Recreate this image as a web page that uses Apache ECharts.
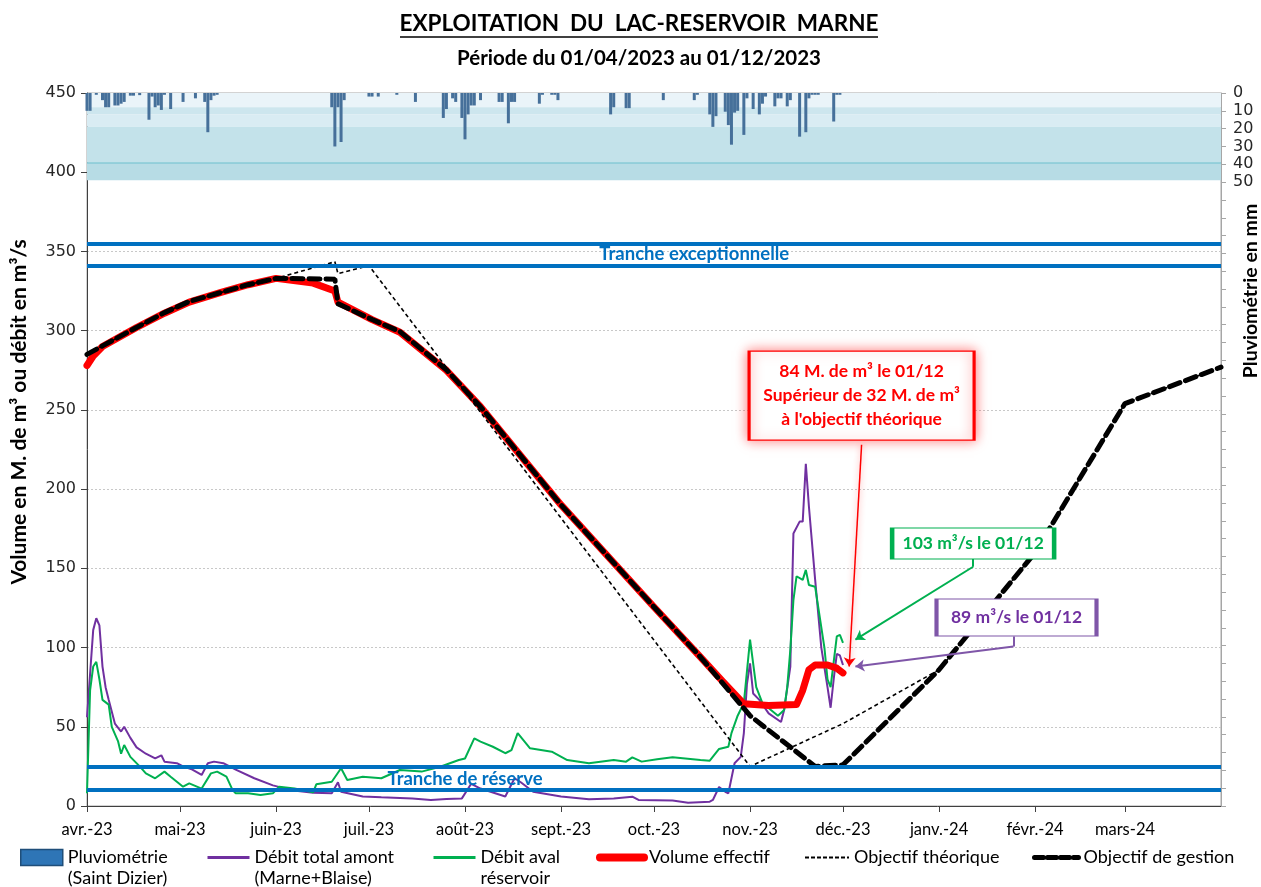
<!DOCTYPE html>
<html>
<head>
<meta charset="utf-8">
<title>Exploitation du lac-réservoir Marne</title>
<script src="https://cdn.jsdelivr.net/npm/echarts@6.0.0/dist/echarts.min.js"></script>
<style>
html, body { margin: 0; padding: 0; background: #fff; }
#chart { width: 1261px; height: 887px; }
</style>
</head>
<body>
<div id="chart"></div>
<script>
// jours comptés depuis le 01/04/2023 (0 = 01/04/2023, 366 = 01/04/2024)
const monthStarts = [0, 30, 61, 91, 122, 153, 183, 214, 244, 275, 306, 335]
const monthLabels = ['avr.-23', 'mai-23', 'juin-23', 'juil.-23', 'août-23', 'sept.-23',
  'oct.-23', 'nov.-23', 'déc.-23', 'janv.-24', 'févr.-24', 'mars-24']

// pluviométrie (mm) - Saint Dizier
const rainDays = [0, 1, 3, 5, 6, 7, 9, 10, 11, 12, 14, 15, 17, 20, 21, 22, 23, 24, 25, 27, 31, 35, 38, 39, 40, 41, 42,
  79, 80, 81, 82, 83, 91, 92, 94, 100, 106, 115, 116, 118, 119, 121, 122, 123, 124, 125, 127, 133, 134, 136, 137, 138,
  146, 147, 150, 151, 152, 169, 170, 174, 175, 186, 196, 197, 201, 202, 203, 206, 207, 208, 209, 210, 212, 213,
  215, 217, 218, 219, 222, 223, 224, 226, 227, 230, 232, 233, 234, 235, 236, 241, 242, 243]
const rainMm = [10, 10, 1, 4, 8, 8, 7, 7, 6, 5, 1.5, 1.5, 1.2, 15, 2, 8, 7, 9.5, 1, 9, 5, 3, 5, 22, 4, 1.5, 1,
  8, 30, 8, 27.5, 4, 2, 2, 2, 1, 5, 14, 9, 3, 5, 14, 26, 12, 7, 7, 4, 5, 5, 17, 5, 5,
  6, 1, 1, 1, 4, 12, 8, 8.5, 8.5, 4, 4, 1, 12, 19, 13, 10.5, 18, 29, 11, 10, 23.5, 3,
  9, 12, 6, 2, 7.5, 3, 3, 7.5, 4, 24.5, 22, 3, 1, 1, 1, 16, 1, 1]

// débit total amont (Marne+Blaise), m3/s
const amontDays = [0, 2, 3, 4, 5, 6, 7, 9, 11, 12, 14, 16, 19, 22, 24, 25, 29, 31, 34, 37, 39, 41, 44, 48, 54, 60, 66,
  73, 79, 81, 82, 89, 95, 105, 111, 116, 121, 124, 127, 135, 138, 140, 144, 153, 162, 170, 176, 178, 189, 194, 201,
  202, 204, 206, 207, 209, 211, 212, 213, 214, 215, 217, 220, 224, 225, 227, 228, 230, 231, 232, 233, 235, 237,
  239, 240, 241, 242, 243, 244]
const amontVals = [56, 111, 118.5, 114, 88, 75, 67, 52, 47, 50, 43, 37, 33, 30, 32, 28, 27, 25, 23, 19.6, 27, 28, 27, 23,
  17.5, 13, 10, 8.4, 8, 15, 9, 6, 5.5, 4.8, 3.8, 4.4, 4.8, 14, 11, 6, 17.5, 15, 9, 6, 4.2, 4.8, 5.9, 3.8, 3.4, 2.1, 2.7,
  3.8, 12, 9, 8, 27, 31, 46, 77, 90, 71, 67, 58.5, 53, 60.6, 88, 172, 179.5, 179.5, 216, 189, 143, 100,
  75, 62, 80, 96, 95, 89]

// débit aval réservoir, m3/s
const avalDays = [0, 1, 2, 3, 4, 5, 7, 8, 10, 11, 12, 14, 17, 19, 22, 25, 27, 31, 33, 37, 40, 42, 45, 47, 48, 52, 56,
  60, 62, 67, 73, 74, 79, 82, 84, 89, 95, 101, 108, 114, 120, 122, 125, 127, 131, 135, 137, 139, 143, 150, 155, 162,
  170, 174, 176, 179, 184, 189, 198, 201, 204, 207, 208, 210, 212, 214, 216, 218, 223, 225, 226, 227, 228, 229,
  231, 232, 233, 235, 238, 239, 240, 242, 243, 244]
const avalVals = [8, 73, 88, 91, 80, 67, 64, 50, 41, 33, 38.5, 31, 25, 20.6, 17.5, 21.7, 18.5, 12.2, 14.3, 11, 20.6, 21.7,
  18.5, 10, 8, 8, 7, 8, 12.2, 11, 8.6, 13.7, 15.3, 23.8, 16.4, 18.5, 17.5, 22.7, 21.7, 24.8, 29, 30, 42.7, 40.6, 37.4,
  33.3, 35.3, 46, 36.4, 34.3, 29, 27, 29, 28, 30.7, 28, 29.5, 30.7, 29, 28.6, 36, 37.4, 46, 57, 65, 105, 75, 65, 57,
  60.6, 75, 98.5, 130, 145, 142.7, 149, 139.5, 138.4, 100, 80, 75, 107, 108, 103]

// volume effectif, millions de m3
const volDays = [0, 2, 5, 16, 25, 33, 43, 52, 61, 73, 80, 81, 92, 101, 116, 127, 153, 183, 198, 205, 212, 220, 229,
  231, 233, 235, 239, 242, 244]
const volVals = [278, 284, 290, 302, 311, 318, 324, 329, 333, 330, 325, 318, 307, 299, 275, 252, 190, 125.6, 94, 79,
  64.5, 63.5, 64, 73, 86, 89, 89, 87, 84]

// objectif théorique
const theoDays = [0, 5, 16, 25, 33, 43, 52, 61, 80, 81, 91, 214, 244, 275, 306, 335, 366]
const theoVals = [285, 290.4, 302, 311.4, 318.4, 324, 329, 333, 343.5, 336, 341, 25, 52, 86, 160, 254, 277]

// objectif de gestion
const gestDays = [0, 5, 16, 25, 33, 43, 52, 61, 80, 81, 92, 101, 116, 127, 153, 183, 198, 214, 235, 244, 275, 306,
  335, 366]
const gestVals = [285, 290.4, 302, 311.4, 318.4, 324, 329, 333, 332.5, 317, 307, 299.4, 275.3, 252, 190, 125.6, 94, 57,
  25, 26, 86, 160, 254, 277]

// seuils des tranches
const tranches = [355, 341, 25, 10]

const days = []
for (let i = 0; i <= 366; i++) days.push(i)
const pairs = (d, v) => d.map((x, i) => [x, v[i]])

const narrow = 'Lato, "Liberation Sans", sans-serif'
const isMonth = (i) => monthStarts.indexOf(i) >= 0

const chart = echarts.init(document.getElementById('chart'))

// une légende par entrée, placée comme dans l'original
function leg(item, left, top, w, h, text) {
  return {
    data: [item],
    left: left,
    top: top,
    padding: 0,
    itemWidth: w,
    itemHeight: h,
    itemGap: 0,
    selectedMode: false,
    formatter: () => text,
    textStyle: { fontFamily: narrow, fontSize: 18, color: '#000', lineHeight: 21 }
  }
}
const hideSym = { opacity: 0 }

chart.setOption({
  animation: false,
  grid: { left: 87, right: 40, top: 93, bottom: 81, show: true, borderColor: '#a6a6a6', borderWidth: 1 },
  graphic: [
    { type: 'text', x: 639, y: 24, style: { text: 'EXPLOITATION  DU  LAC-RESERVOIR  MARNE', font: 'bold 22.5px ' + narrow, fill: '#000', align: 'center', verticalAlign: 'middle' } },
    { type: 'line', shape: { x1: 400, y1: 37, x2: 878, y2: 37 }, style: { stroke: '#000', lineWidth: 1.5 } },
    { type: 'text', x: 639, y: 58, style: { text: 'Période du 01/04/2023 au 01/12/2023', font: 'bold 20.5px ' + narrow, fill: '#000', align: 'center', verticalAlign: 'middle' } },
    { type: 'text', x: 19, y: 412, rotation: Math.PI / 2, style: { text: 'Volume en M. de m³ ou débit en m³/s', font: 'bold 21px ' + narrow, fill: '#000', align: 'center', verticalAlign: 'middle' } },
    { type: 'text', x: 1251, y: 291, rotation: Math.PI / 2, style: { text: 'Pluviométrie en mm', font: 'bold 19.5px ' + narrow, fill: '#000', align: 'center', verticalAlign: 'middle' } }
  ],
  legend: [
    leg({ name: 'Pluviométrie', icon: 'rect', itemStyle: { color: '#2e75b6', borderColor: '#1f4e79', borderWidth: 1.5 } },
      20, 826, 42, 16, ' \nPluviométrie\n(Saint Dizier)'),
    leg({ name: 'Débit total amont', itemStyle: hideSym, lineStyle: { width: 3 } }, 206, 826, 42, 14, ' \nDébit total amont\n(Marne+Blaise)'),
    leg({ name: 'Débit aval', itemStyle: hideSym, lineStyle: { width: 3 } }, 432, 826, 42, 14, ' \nDébit aval\nréservoir'),
    leg({ name: 'Volume effectif', itemStyle: hideSym, lineStyle: { width: 8, cap: 'round' } }, 596, 847, 44, 14, 'Volume effectif'),
    leg({ name: 'Objectif théorique', itemStyle: hideSym, lineStyle: { width: 2, type: [4, 2] } }, 804, 847, 44, 14, 'Objectif théorique'),
    leg({ name: 'Objectif de gestion', itemStyle: hideSym, lineStyle: { width: 5, type: [9, 4] } }, 1032, 847, 44, 14, 'Objectif de gestion')
  ],
  xAxis: {
    type: 'category',
    data: days,
    boundaryGap: false,
    axisLine: { lineStyle: { color: '#404040', width: 1 } },
    axisTick: { interval: isMonth, length: 6, lineStyle: { color: '#404040' } },
    axisLabel: {
      interval: isMonth,
      formatter: (v, i) => { const k = monthStarts.indexOf(Number(v)); return k >= 0 ? monthLabels[k] : '' },
      fontFamily: narrow, fontSize: 16.5, color: '#000', margin: 15
    },
    splitLine: { show: false }
  },
  yAxis: [
    {
      type: 'value', min: 0, max: 450, interval: 50,
      axisLine: { show: true, lineStyle: { color: '#404040' } },
      axisTick: { show: true, length: 6, lineStyle: { color: '#404040' } },
      axisLabel: { fontFamily: '"DejaVu Sans", Verdana, sans-serif', fontSize: 16, color: '#262626', margin: 11 },
      splitLine: { lineStyle: { color: '#c8c8c8', type: [2, 2] } }
    },
    {
      type: 'value', min: 0, max: 400, interval: 10, inverse: true, position: 'right',
      axisLine: { show: true, lineStyle: { color: '#a6a6a6' } },
      axisTick: { show: true, length: 5, lineStyle: { color: '#a6a6a6' } },
      axisLabel: { formatter: (v) => (v <= 50 ? String(v) : ''), fontFamily: '"DejaVu Sans", Verdana, sans-serif', fontSize: 16, color: '#262626', margin: 12 },
      splitLine: { show: false }
    }
  ],
  series: [
    {
      name: 'Pluviométrie', type: 'bar', yAxisIndex: 1,
      data: pairs(rainDays, rainMm),
      barWidth: 3,
      itemStyle: { color: '#46709a' },
      markArea: {
        silent: true,
        data: [
          [{ yAxis: 0, itemStyle: { color: '#eaf4f9' } }, { yAxis: 8 }],
          [{ yAxis: 8, itemStyle: { color: '#cde6ee' } }, { yAxis: 12 }],
          [{ yAxis: 12, itemStyle: { color: '#d9ecf3' } }, { yAxis: 19 }],
          [{ yAxis: 19, itemStyle: { color: '#c3e2ea' } }, { yAxis: 39 }],
          [{ yAxis: 39, itemStyle: { color: '#b7dce5' } }, { yAxis: 49 }]
        ]
      },
      markLine: {
        silent: true, symbol: 'none', label: { show: false },
        lineStyle: { color: '#86cad6', width: 1.5, type: 'solid' },
        data: [{ yAxis: 39 }]
      }
    },
    {
      name: 'Débit total amont', type: 'line',
      data: pairs(amontDays, amontVals),
      symbol: 'none',
      lineStyle: { color: '#7030a0', width: 2 },
      itemStyle: { color: '#7030a0' },
      markLine: {
        silent: true, symbol: 'none', label: { show: false },
        lineStyle: { color: '#0070c0', width: 4, type: 'solid' },
        data: tranches.map((v) => ({ yAxis: v }))
      },
      markPoint: {
        silent: true, symbol: 'rect', symbolSize: 1, itemStyle: { color: 'rgba(0,0,0,0)' },
        label: { show: true, position: 'inside', color: '#0070c0', fontWeight: 'bold', fontSize: 18.5, fontFamily: narrow },
        data: [
          { coord: [196, 348.5], label: { formatter: 'Tranche exceptionnelle' } },
          { coord: [122, 17], label: { formatter: 'Tranche de réserve' } }
        ]
      }
    },
    {
      name: 'Débit aval', type: 'line',
      data: pairs(avalDays, avalVals),
      symbol: 'none',
      lineStyle: { color: '#00b050', width: 2 },
      itemStyle: { color: '#00b050' }
    },
    {
      name: 'Volume effectif', type: 'line',
      data: pairs(volDays, volVals),
      symbol: 'none',
      lineStyle: { color: '#ff0000', width: 7, cap: 'round', join: 'round' },
      itemStyle: { color: '#ff0000' }
    },
    {
      name: 'Objectif théorique', type: 'line',
      data: pairs(theoDays, theoVals),
      symbol: 'none',
      lineStyle: { color: '#000', width: 1.6, type: [4, 3] },
      itemStyle: { color: '#000' }
    },
    {
      name: 'Objectif de gestion', type: 'line',
      data: pairs(gestDays, gestVals),
      symbol: 'none',
      lineStyle: { color: '#000', width: 5, type: [11, 6], cap: 'round' },
      itemStyle: { color: '#000' },
      markLine: {
        silent: true, label: { show: false }, symbolSize: 9,
        data: [
          [{ coord: [250, 228], symbol: 'none', lineStyle: { color: '#ff0000', width: 1.5, type: 'solid', shadowBlur: 6, shadowColor: 'rgba(255,0,0,0.45)' } }, { coord: [246, 88], symbol: 'arrow' }],
          [{ coord: [286, 156], symbol: 'none', lineStyle: { color: '#00b050', width: 2, type: 'solid' } }, { coord: [286, 151], symbol: 'none' }],
          [{ coord: [286, 151], symbol: 'none', lineStyle: { color: '#00b050', width: 2, type: 'solid' } }, { coord: [248, 105], symbol: 'arrow' }],
          [{ coord: [299, 107], symbol: 'none', lineStyle: { color: '#7f56a8', width: 2, type: 'solid' } }, { coord: [299, 100.6], symbol: 'none' }],
          [{ coord: [299, 100.6], symbol: 'none', lineStyle: { color: '#7f56a8', width: 2, type: 'solid' } }, { coord: [248, 88], symbol: 'arrow' }]
        ]
      },
      markPoint: {
        silent: true, symbol: 'rect',
        label: { show: true, position: 'inside', fontWeight: 'bold', fontSize: 17.5, fontFamily: narrow, lineHeight: 24 },
        data: [
          {
            coord: [250, 259], symbolSize: [225, 89],
            itemStyle: { color: '#fff', borderColor: '#ff0000', borderWidth: 2, shadowBlur: 12, shadowColor: 'rgba(255,0,0,0.5)' },
            label: { color: '#ff0000', formatter: '84 M. de m³ le 01/12\nSupérieur de 32 M. de m³\nà l\'objectif théorique' }
          },
          {
            coord: [286, 165.7], symbolSize: [162, 31],
            itemStyle: { color: '#fff', borderColor: '#00b050', borderWidth: 2 },
            label: { color: '#00b050', formatter: '103 m³/s le 01/12' }
          },
          {
            coord: [300, 119], symbolSize: [160, 37],
            itemStyle: { color: '#fff', borderColor: '#7f56a8', borderWidth: 2 },
            label: { color: '#7030a0', formatter: '89 m³/s le 01/12' }
          }
        ]
      }
    }
  ]
})
</script>
</body>
</html>
